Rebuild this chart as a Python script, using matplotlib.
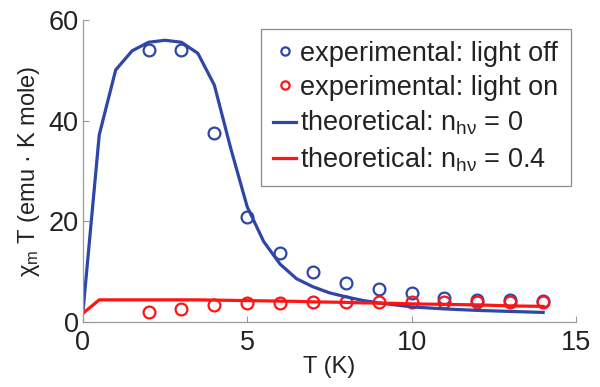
import matplotlib
matplotlib.use("Agg")
import matplotlib.pyplot as plt

plt.rcParams["font.family"] = ["Liberation Sans", "DejaVu Sans"]
plt.rcParams["mathtext.fontset"] = "custom"
plt.rcParams["mathtext.rm"] = "Liberation Sans"
plt.rcParams["mathtext.it"] = "Liberation Sans"
plt.rcParams["mathtext.sf"] = "Liberation Sans"

# experimental points
T_exp = [2, 3, 4, 5, 6, 7, 8, 9, 10, 11, 12, 13, 14]
chi_off = [54.1, 54.0, 37.6, 20.9, 13.8, 9.9, 7.7, 6.5, 5.7, 4.7, 4.4, 4.3, 4.2]
chi_on = [1.9, 2.5, 3.4, 3.8, 3.8, 4.0, 3.9, 3.9, 3.9, 3.9, 3.9, 3.9, 4.0]

# theoretical curves
T_th = [0, 0.5, 1, 1.5, 2, 2.5, 3, 3.5, 4, 4.5, 5, 5.5, 6, 6.5, 7, 7.5, 8, 8.5, 9, 9.5, 10, 11, 12, 13, 14]
chi_th0 = [1.7, 37.2, 50.1, 53.9, 55.6, 56.0, 55.6, 53.4, 47.1, 34.5, 22.9, 16.0, 11.5, 8.6, 7.0, 5.8, 5.0, 4.3, 3.8, 3.4, 3.0, 2.6, 2.3, 2.1, 1.9]
chi_th04 = [1.7, 4.4, 4.4, 4.4, 4.4, 4.4, 4.4, 4.4, 4.35, 4.3, 4.25, 4.2, 4.15, 4.1, 4.0, 3.95, 3.9, 3.8, 3.75, 3.7, 3.6, 3.5, 3.4, 3.2, 3.1]

blue = "#2e46a6"
red = "#ff1414"

fig = plt.figure(figsize=(6, 3.87), dpi=100)
ax = fig.add_axes([0.138, 0.168, 0.822, 0.78])

ax.plot(T_exp, chi_off, "o", mfc="none", mec=blue, ms=8.5, mew=1.6, label="experimental: light off")
ax.plot(T_exp, chi_on, "o", mfc="none", mec=red, ms=8.5, mew=1.6, label="experimental: light on")
ax.plot(T_th, chi_th0, "-", color=blue, lw=2.3, label=r"theoretical: n$_{h\nu}$ = 0")
ax.plot(T_th, chi_th04, "-", color=red, lw=2.3, label=r"theoretical: n$_{h\nu}$ = 0.4")

ax.set_xlim(0, 15)
ax.set_ylim(0, 60)
ax.set_xticks([0, 5, 10, 15])
ax.set_yticks([0, 20, 40, 60])

for s in ["top", "right"]:
    ax.spines[s].set_visible(False)
for s in ["left", "bottom"]:
    ax.spines[s].set_color("#9a9a9a")
    ax.spines[s].set_linewidth(0.9)
ax.tick_params(direction="in", length=4, color="#9a9a9a", labelsize=19.5, labelcolor="#222222")
ax.tick_params(axis="x", pad=6)
ax.tick_params(axis="y", pad=3)

ax.set_xlabel("T (K)", fontsize=17, color="#222222", labelpad=0)
ax.set_ylabel(r"$\chi_m$ T (emu · K mole)", fontsize=17, color="#222222", labelpad=5)

leg = ax.legend(loc="upper right", bbox_to_anchor=(1.0, 0.99), fontsize=19.5, numpoints=1,
                handlelength=0.85, handletextpad=0.15, borderaxespad=0.2, fancybox=False,
                labelspacing=0.3, borderpad=0.45, framealpha=1, labelcolor="#222222",
                markerscale=0.7)
leg.get_frame().set_edgecolor("#8a8a8a")
leg.get_frame().set_linewidth(0.9)

fig.savefig("out.png", dpi=100)
